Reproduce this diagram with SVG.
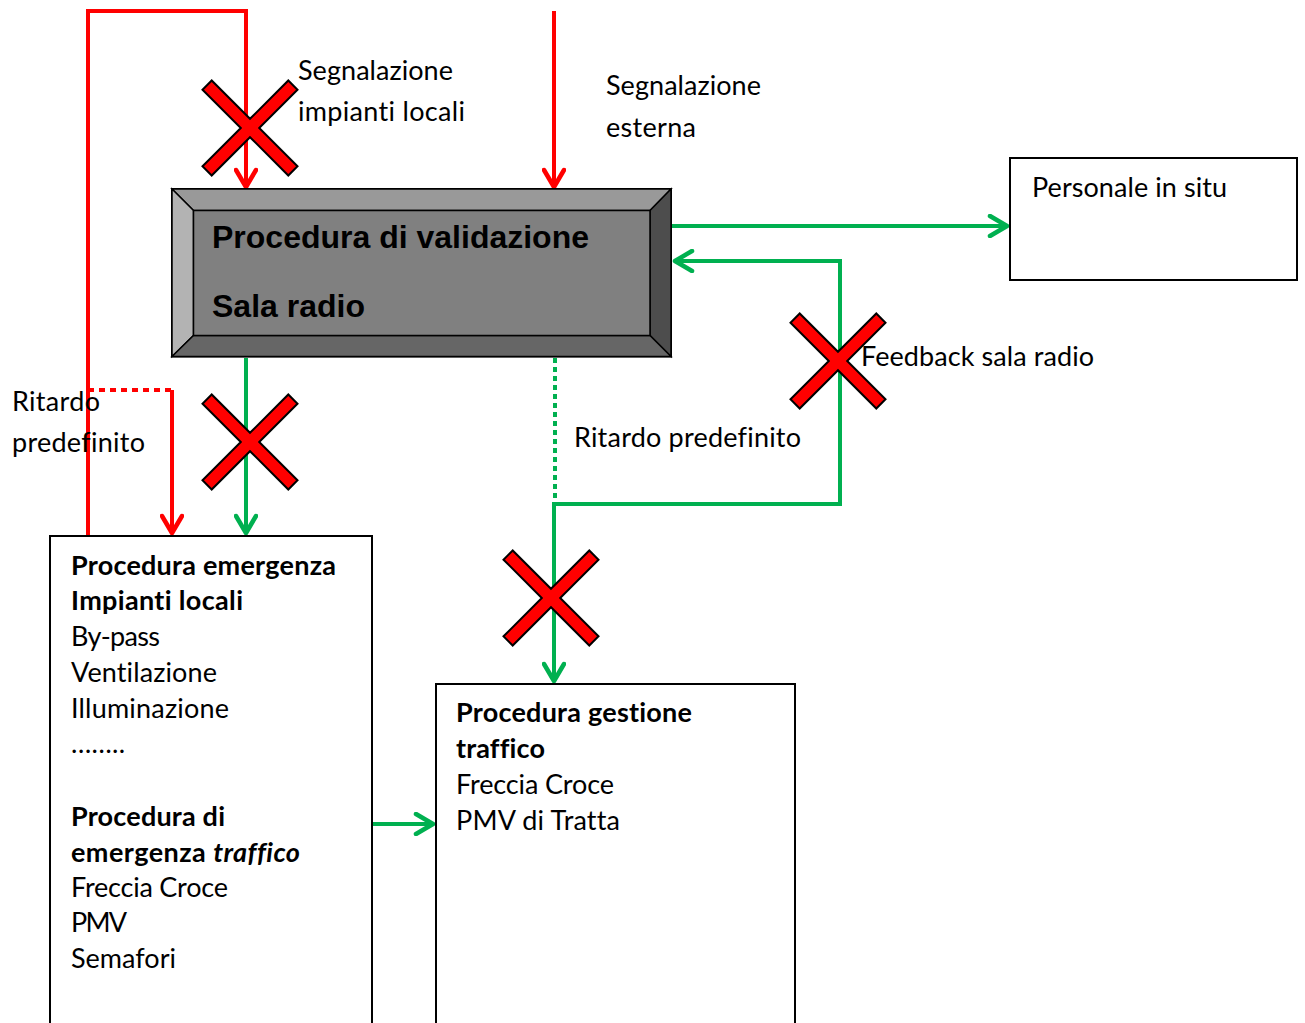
<svg xmlns="http://www.w3.org/2000/svg" width="1305" height="1023" viewBox="0 0 1305 1023">
<style>
.t{font-family:Lato,"Open Sans","Liberation Sans",sans-serif;font-size:27px;fill:#000;font-variant-ligatures:none;font-feature-settings:"liga" 0,"clig" 0}
.b{font-weight:bold}
.bi{font-weight:bold;font-style:italic}
.h{font-family:"Liberation Sans",Arial,sans-serif;font-size:32px;font-weight:bold;fill:#000}
.box{fill:#fff;stroke:#000;stroke-width:2}
.r{fill:none;stroke:#FF0000;stroke-width:4}
.g{fill:none;stroke:#00B050;stroke-width:4}
.bev{stroke:#000;stroke-width:1.5;stroke-linejoin:miter}
.x{fill:#FF0000;stroke:#000;stroke-width:2;stroke-linejoin:miter}
</style>
<defs>
<marker id="ar" markerUnits="userSpaceOnUse" viewBox="0 0 24 24" markerWidth="24" markerHeight="24" refX="21" refY="12" orient="auto">
<path d="M4,2 L21,12 L4,22" fill="none" stroke="#FF0000" stroke-width="4.5" stroke-linecap="round" stroke-linejoin="round"/>
</marker>
<marker id="ag" markerUnits="userSpaceOnUse" viewBox="0 0 24 24" markerWidth="24" markerHeight="24" refX="21" refY="12" orient="auto">
<path d="M4,2 L21,12 L4,22" fill="none" stroke="#00B050" stroke-width="4.5" stroke-linecap="round" stroke-linejoin="round"/>
</marker>
<polygon id="cross" points="0,-9.2 38.3,-47.5 47.5,-38.3 9.2,0 47.5,38.3 38.3,47.5 0,9.2 -38.3,47.5 -47.5,38.3 -9.2,0 -47.5,-38.3 -38.3,-47.5"/>
</defs>

<g id="connectors">
<polyline class="r" points="88,535 88,11 246,11 246,187" marker-end="url(#ar)"/>
<line class="r" x1="554" y1="11" x2="554" y2="187" marker-end="url(#ar)"/>
<line class="r" x1="88" y1="390" x2="172" y2="390" stroke-dasharray="6 5"/>
<line class="r" x1="172" y1="390" x2="172" y2="533" marker-end="url(#ar)"/>
<line class="g" x1="246" y1="358" x2="246" y2="533" marker-end="url(#ag)"/>
<line class="g" x1="672" y1="226" x2="1007" y2="226" marker-end="url(#ag)"/>
<polyline class="g" points="554,504 840,504 840,261 675,261" marker-end="url(#ag)"/>
<line class="g" x1="555" y1="358" x2="555" y2="502" stroke-dasharray="5 4"/>
<line class="g" x1="554" y1="502" x2="554" y2="681" marker-end="url(#ag)"/>
<line class="g" x1="373" y1="824" x2="433" y2="824" marker-end="url(#ag)"/>
</g>

<g id="validazione">
<rect x="172" y="189" width="499" height="167.5" fill="#808080" stroke="#000" stroke-width="2"/>
<polygon class="bev" fill="#999999" points="172,189 671,189 650,210.5 193.5,210.5"/>
<polygon class="bev" fill="#b3b3b3" points="172,189 193.5,210.5 193.5,335.5 172,356.5"/>
<polygon class="bev" fill="#4d4d4d" points="671,189 671,356.5 650,335.5 650,210.5"/>
<polygon class="bev" fill="#666666" points="172,356.5 193.5,335.5 650,335.5 671,356.5"/>
<rect x="193.5" y="210.5" width="456.5" height="125" fill="#808080" stroke="#000" stroke-width="1.5"/>
<text class="h" x="212" y="248">Procedura di validazione</text>
<text class="h" x="212" y="317">Sala radio</text>
</g>

<g id="personale">
<rect class="box" x="1010" y="158" width="287" height="122"/>
<text class="t" x="1032" y="197" textLength="195">Personale in situ</text>
</g>

<g id="emergenza">
<rect class="box" x="50" y="536" width="322" height="500"/>
<text class="t b" x="71" y="575" textLength="265">Procedura emergenza</text>
<text class="t b" x="71" y="610" textLength="172">Impianti locali</text>
<text class="t" x="71" y="646" textLength="89">By-pass</text>
<text class="t" x="71" y="682" textLength="146">Ventilazione</text>
<text class="t" x="71" y="718" textLength="158">Illuminazione</text>
<text class="t" x="71" y="753" textLength="54">……..</text>
<text class="t b" x="71" y="826" textLength="154">Procedura di</text>
<text class="t b" x="71" y="862" textLength="229">emergenza <tspan class="bi">traffico</tspan></text>
<text class="t" x="71" y="897" textLength="157">Freccia Croce</text>
<text class="t" x="71" y="932" textLength="56">PMV</text>
<text class="t" x="71" y="968" textLength="105">Semafori</text>
</g>

<g id="gestione">
<rect class="box" x="436" y="684" width="359" height="352"/>
<text class="t b" x="456" y="722" textLength="236">Procedura gestione</text>
<text class="t b" x="456" y="758" textLength="89">traffico</text>
<text class="t" x="456" y="794" textLength="158">Freccia Croce</text>
<text class="t" x="456" y="830" textLength="164">PMV di Tratta</text>
</g>

<g id="labels">
<text class="t" x="298" y="80" textLength="155">Segnalazione</text>
<text class="t" x="298" y="121" textLength="167">impianti locali</text>
<text class="t" x="606" y="95" textLength="155">Segnalazione</text>
<text class="t" x="606" y="137" textLength="90">esterna</text>
<text class="t" x="12" y="411" textLength="88">Ritardo</text>
<text class="t" x="12" y="452" textLength="133">predefinito</text>
<text class="t" x="574" y="447" textLength="227">Ritardo predefinito</text>
<text class="t" x="861" y="366" textLength="233">Feedback sala radio</text>
</g>

<g id="crosses">
<use href="#cross" class="x" transform="translate(250,128)"/>
<use href="#cross" class="x" transform="translate(250,442)"/>
<use href="#cross" class="x" transform="translate(838,361)"/>
<use href="#cross" class="x" transform="translate(551,598)"/>
</g>
</svg>
